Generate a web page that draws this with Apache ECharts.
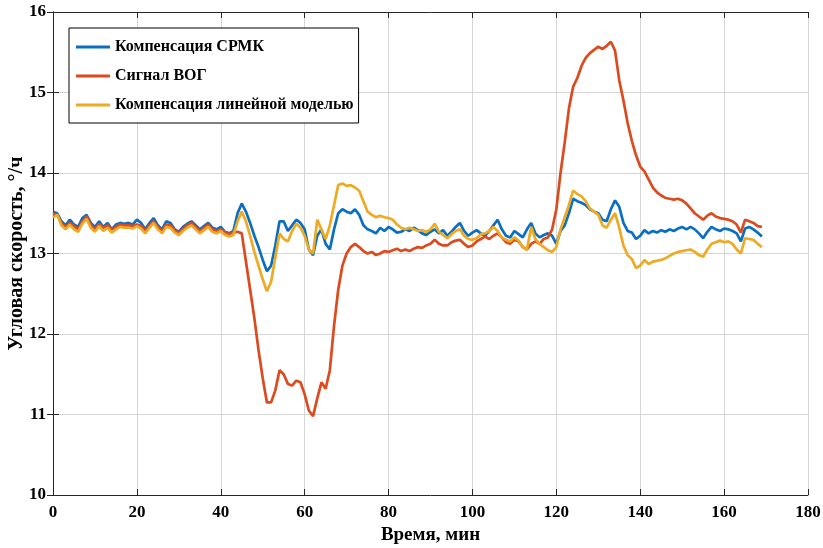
<!DOCTYPE html>
<html>
<head>
<meta charset="utf-8">
<script src="https://cdn.jsdelivr.net/npm/echarts@6/dist/echarts.min.js"></script>
<style>
  html, body { margin: 0; padding: 0; background: #fff; }
  #chart { width: 823px; height: 548px; }
</style>
</head>
<body>
<div id="chart"></div>
<script>
// шаг по времени, мин
const STEP = 1;

// Компенсация СРМК
const srmk = [
  13.52, 13.50, 13.40, 13.35, 13.42, 13.36, 13.33, 13.44, 13.48, 13.38,
  13.33, 13.40, 13.33, 13.38, 13.30, 13.36, 13.38, 13.37, 13.38, 13.36,
  13.42, 13.38, 13.30, 13.38, 13.44, 13.35, 13.30, 13.40, 13.38, 13.30,
  13.27, 13.33, 13.37, 13.40, 13.35, 13.30, 13.34, 13.38, 13.32, 13.30,
  13.33, 13.27, 13.25, 13.28, 13.50, 13.62, 13.52, 13.38, 13.22, 13.08,
  12.92, 12.78, 12.85, 13.10, 13.40, 13.40, 13.28, 13.35, 13.42, 13.38,
  13.30, 13.05, 12.98, 13.22, 13.30, 13.12, 13.05, 13.30, 13.50, 13.55,
  13.52, 13.50, 13.55, 13.48, 13.35, 13.30, 13.28, 13.25, 13.32, 13.28,
  13.33, 13.30, 13.26, 13.27, 13.30, 13.28, 13.32, 13.29, 13.25, 13.23,
  13.27, 13.30, 13.25, 13.29, 13.22, 13.27, 13.33, 13.38, 13.28, 13.22,
  13.26, 13.29, 13.25, 13.22, 13.28, 13.35, 13.42, 13.30, 13.22, 13.20,
  13.28, 13.24, 13.20, 13.30, 13.38, 13.25, 13.20, 13.23, 13.25, 13.22,
  13.12, 13.28, 13.35, 13.50, 13.68, 13.65, 13.63, 13.60, 13.55, 13.52,
  13.50, 13.42, 13.40, 13.55, 13.66, 13.58, 13.38, 13.28, 13.26, 13.18,
  13.22, 13.29, 13.25, 13.28, 13.26, 13.29, 13.27, 13.30, 13.28, 13.31,
  13.33, 13.30, 13.33, 13.30, 13.25, 13.19, 13.27, 13.33, 13.30, 13.28,
  13.31, 13.30, 13.28, 13.25, 13.15, 13.31, 13.33, 13.30, 13.26, 13.21
];

// Сигнал ВОГ
const vog = [
  13.50, 13.48, 13.38, 13.33, 13.38, 13.34, 13.30, 13.40, 13.46, 13.36,
  13.30, 13.37, 13.32, 13.35, 13.30, 13.33, 13.36, 13.35, 13.35, 13.34,
  13.36, 13.34, 13.28, 13.35, 13.40, 13.33, 13.28, 13.36, 13.35, 13.29,
  13.26, 13.30, 13.35, 13.38, 13.33, 13.28, 13.32, 13.36, 13.30, 13.28,
  13.30, 13.26, 13.24, 13.26, 13.27, 13.25, 12.90, 12.55, 12.20, 11.80,
  11.45, 11.15, 11.15, 11.30, 11.55, 11.50, 11.38, 11.36, 11.42, 11.40,
  11.25, 11.05, 10.98, 11.20, 11.40, 11.32, 11.55, 12.10, 12.55, 12.85,
  13.00, 13.08, 13.12, 13.08, 13.03, 13.00, 13.02, 12.98, 13.00, 13.03,
  13.02, 13.04, 13.06, 13.03, 13.05, 13.03, 13.06, 13.08, 13.07, 13.10,
  13.12, 13.17, 13.12, 13.10, 13.10, 13.14, 13.16, 13.17, 13.12, 13.08,
  13.10, 13.15, 13.18, 13.21, 13.18, 13.22, 13.25, 13.20, 13.14, 13.12,
  13.17, 13.15, 13.08, 13.05, 13.12, 13.15, 13.12, 13.18, 13.20, 13.30,
  13.55, 14.00, 14.38, 14.80, 15.07, 15.18, 15.33, 15.43, 15.49, 15.53,
  15.57, 15.54, 15.58, 15.63, 15.52, 15.15, 14.90, 14.62, 14.40, 14.22,
  14.08, 14.02, 13.92, 13.82, 13.76, 13.72, 13.69, 13.68, 13.67, 13.68,
  13.66, 13.62, 13.56, 13.50, 13.46, 13.42, 13.47, 13.50, 13.46, 13.44,
  13.43, 13.42, 13.40, 13.36, 13.26, 13.42, 13.40, 13.38, 13.34, 13.33
];

// Компенсация линейной моделью
const linear = [
  13.45, 13.48, 13.35, 13.30, 13.36, 13.30, 13.27, 13.37, 13.43, 13.32,
  13.27, 13.34, 13.28, 13.32, 13.26, 13.30, 13.33, 13.32, 13.32, 13.31,
  13.34, 13.31, 13.25, 13.32, 13.38, 13.30, 13.25, 13.33, 13.32, 13.26,
  13.23, 13.28, 13.32, 13.35, 13.30, 13.25, 13.29, 13.33, 13.27, 13.25,
  13.28, 13.23, 13.21, 13.23, 13.40, 13.52, 13.40, 13.22, 13.02, 12.85,
  12.68, 12.53, 12.65, 12.95, 13.25, 13.18, 13.15, 13.28, 13.37, 13.32,
  13.22, 13.05, 13.00, 13.42, 13.30, 13.18, 13.35, 13.60, 13.85, 13.87,
  13.84, 13.85, 13.82, 13.78, 13.65, 13.52, 13.48, 13.45, 13.47, 13.45,
  13.44, 13.42, 13.36, 13.32, 13.30, 13.32, 13.30, 13.28, 13.29, 13.27,
  13.30, 13.37, 13.27, 13.23, 13.19, 13.24, 13.28, 13.30, 13.22, 13.18,
  13.17, 13.19, 13.24, 13.25, 13.28, 13.33, 13.28, 13.20, 13.17, 13.15,
  13.20, 13.16, 13.08, 13.05, 13.33, 13.18, 13.12, 13.08, 13.04, 13.02,
  13.08, 13.30, 13.45, 13.60, 13.78, 13.74, 13.71, 13.65, 13.56, 13.52,
  13.48, 13.35, 13.32, 13.42, 13.50, 13.32, 13.10, 12.98, 12.93, 12.82,
  12.85, 12.92, 12.87, 12.90, 12.91, 12.92, 12.94, 12.97, 13.00, 13.02,
  13.03, 13.04, 13.05, 13.02, 12.98, 12.96, 13.05, 13.12, 13.14, 13.16,
  13.14, 13.15, 13.12, 13.05, 13.00, 13.19, 13.18, 13.17, 13.12, 13.08
];

const seriesNames = ['Компенсация СРМК', 'Сигнал ВОГ', 'Компенсация линейной моделью'];
const colors = ['#0A6FC2', '#DC4A1E', '#EEAA22'];

const FONT = '"Liberation Serif", "Times New Roman", serif';

const toPairs = arr => arr.map((v, i) => [i * STEP, v]);

var myChart = echarts.init(document.getElementById('chart'));

const tickStyle = { show: true, inside: true, length: 6, lineStyle: { color: '#262626' } };
const lineStyle = { show: true, lineStyle: { color: '#262626', width: 1 } };
const gridLine = { show: true, lineStyle: { color: '#d6d6d6', width: 1 } };

const getOptions = () => {
  return {
    animation: false,
    color: colors,
    grid: { left: 53, right: 15, top: 12, bottom: 53, outerBoundsMode: 'none' },
    legend: {
      orient: 'vertical',
      left: 69,
      top: 28,
      backgroundColor: '#fff',
      borderColor: '#000',
      borderWidth: 1,
      borderRadius: 0,
      padding: [11, 5, 10, 7],
      itemWidth: 34,
      itemHeight: 3,
      itemGap: 13,
      icon: 'rect',
      textStyle: { fontFamily: FONT, fontWeight: 'bold', fontSize: 16, color: '#000' },
      data: seriesNames
    },
    xAxis: [
      {
        type: 'value',
        min: 0,
        max: 180,
        interval: 20,
        name: 'Время, мин',
        nameLocation: 'middle',
        nameGap: 31,
        nameTextStyle: { fontFamily: FONT, fontWeight: 'bold', fontSize: 19, color: '#000' },
        axisLine: lineStyle,
        axisTick: tickStyle,
        splitLine: gridLine,
        axisLabel: { fontFamily: FONT, fontWeight: 'bold', fontSize: 17, color: '#000', margin: 9 }
      },
      {
        type: 'value',
        position: 'top',
        min: 0,
        max: 180,
        interval: 20,
        axisLine: lineStyle,
        axisTick: tickStyle,
        splitLine: { show: false },
        axisLabel: { show: false }
      }
    ],
    yAxis: [
      {
        type: 'value',
        min: 10,
        max: 16,
        interval: 1,
        name: 'Угловая скорость, °/ч',
        nameLocation: 'middle',
        nameGap: 26,
        nameMoveOverlap: false,
        nameTextStyle: { fontFamily: FONT, fontWeight: 'bold', fontSize: 20, color: '#000' },
        axisLine: lineStyle,
        axisTick: tickStyle,
        splitLine: gridLine,
        axisLabel: { fontFamily: FONT, fontWeight: 'bold', fontSize: 17, color: '#000', margin: 7 }
      },
      {
        type: 'value',
        position: 'right',
        min: 10,
        max: 16,
        interval: 1,
        axisLine: lineStyle,
        axisTick: tickStyle,
        splitLine: { show: false },
        axisLabel: { show: false }
      }
    ],
    series: [srmk, vog, linear].map((arr, k) => ({
      name: seriesNames[k],
      type: 'line',
      showSymbol: false,
      symbol: 'none',
      lineStyle: { width: 2.7, color: colors[k] },
      data: toPairs(arr)
    }))
  };
};

myChart.setOption(getOptions(), true);
</script>
</body>
</html>
